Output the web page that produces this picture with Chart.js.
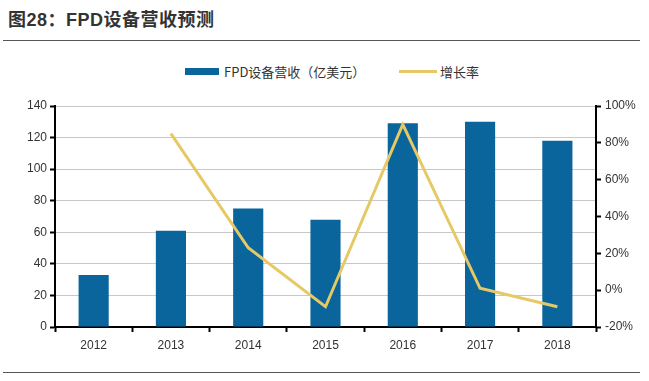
<!DOCTYPE html>
<html><head><meta charset="utf-8">
<script src="https://cdn.jsdelivr.net/npm/chart.js@4/dist/chart.umd.min.js"></script>
<style>
html,body{margin:0;padding:0;background:#fff;}
#wrap{position:relative;width:649px;height:381px;overflow:hidden;font-family:"Liberation Sans","Noto Sans CJK SC",sans-serif;}
#title{position:absolute;left:8px;top:5px;font-size:18px;font-weight:bold;color:#333;font-family:"Liberation Sans","Noto Sans CJK SC",sans-serif;letter-spacing:0.5px;}
#topline{position:absolute;left:3px;top:40px;width:637px;height:0;border-top:1.5px solid #555;}
#botline{position:absolute;left:3px;top:372px;width:637px;height:0;border-top:1.5px solid #555;}
.leg{position:absolute;top:63px;font-size:13px;color:#333;font-family:"Noto Sans CJK SC",sans-serif;line-height:18px;}
.sw{position:absolute;}
canvas{position:absolute;left:0;top:0;}
</style></head>
<body><div id="wrap">
<div id="title">图28：FPD设备营收预测</div>
<div id="topline"></div>
<div class="sw" style="left:185px;top:68px;width:34px;height:7px;background:#0a659c;"></div>
<div class="leg" style="left:224px;">FPD设备营收（亿美元）</div>
<div class="sw" style="left:399px;top:70px;width:38px;height:3px;background:#e6c964;"></div>
<div class="leg" style="left:440px;">增长率</div>
<canvas id="c" width="649" height="381"></canvas>
<div id="botline"></div>
</div>
<script>
const categories = ["2012","2013","2014","2015","2016","2017","2018"];
const revenue = [33, 61, 75, 68, 129, 130, 118];
const growth = [null, 85, 23, -9, 90, 1, -9];
const leftTicks = [0, 20, 40, 60, 80, 100, 120, 140];
const rightTicks = [-20, 0, 20, 40, 60, 80, 100];

const tickFont = {family: "Liberation Sans, Arial, sans-serif", size: 12};
new Chart(document.getElementById('c'), {
  data: {
    labels: categories,
    datasets: [
      {type:'line', label:'增长率', data: growth, yAxisID:'y1', borderColor:'#e6c964', borderWidth:3, pointRadius:0, tension:0, spanGaps:false, order:0},
      {type:'bar', label:'FPD设备营收（亿美元）', data: revenue, yAxisID:'y', backgroundColor:'#0a659c', barPercentage:0.39, categoryPercentage:1, order:1}
    ]
  },
  options: {
    responsive:false, animation:false,
    layout:{padding:{top:106,left:0,right:0,bottom:0}},
    plugins:{legend:{display:false}, tooltip:{enabled:false}},
    scales:{
      x:{
        grid:{offset:true, drawOnChartArea:false, tickColor:'#000', tickLength:5, tickWidth:2},
        border:{color:'#000', width:2},
        ticks:{color:'#333', font:tickFont, padding:6},
        afterFit(s){ s.height = 381-327; }
      },
      y:{
        position:'left', min:0, max:140,
        afterBuildTicks(s){ s.ticks = leftTicks.map(v=>({value:v})); },
        grid:{color:'#c8c8c8', lineWidth:1, tickColor:'#000', tickLength:5, tickWidth:2},
        border:{color:'#000', width:2},
        ticks:{color:'#333', font:tickFont, padding:3},
        afterFit(s){ s.width = 55; }
      },
      y1:{
        position:'right', min:-20, max:100,
        afterBuildTicks(s){ s.ticks = rightTicks.map(v=>({value:v})); },
        grid:{drawOnChartArea:false, tickColor:'#000', tickLength:5, tickWidth:2},
        border:{color:'#000', width:2},
        ticks:{color:'#333', font:tickFont, padding:4, callback:v=>v+'%'},
        afterFit(s){ s.width = 649-596; }
      }
    }
  }
});
</script>
</body></html>
